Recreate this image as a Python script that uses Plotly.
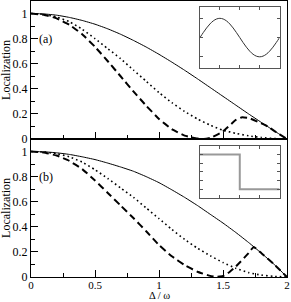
import plotly.graph_objects as go

# ---- data ----
delta = [0.0, 0.1, 0.2, 0.3, 0.4, 0.5, 0.6, 0.7, 0.8, 0.9, 1.0,
         1.1, 1.2, 1.3, 1.4, 1.5, 1.6, 1.7, 1.8, 1.9, 2.0]

a_solid = [1.0, 0.997, 0.987, 0.969, 0.945, 0.915, 0.878, 0.835, 0.786, 0.733, 0.675,
           0.613, 0.548, 0.48, 0.41, 0.34, 0.27, 0.2, 0.132, 0.065, 0.0]
a_dotted = [1.0, 0.993, 0.972, 0.935, 0.875, 0.8, 0.72, 0.64, 0.55, 0.46, 0.37,
            0.29, 0.22, 0.16, 0.11, 0.07, 0.045, 0.025, 0.012, 0.004, 0.0]
a_dash_x = [0.0, 0.1, 0.2, 0.3, 0.4, 0.5, 0.6, 0.7, 0.8, 0.9, 1.0, 1.1, 1.2, 1.3,
            1.35, 1.4, 1.5, 1.6, 1.65, 1.7, 1.8, 1.85, 1.9, 2.0]
a_dashed = [1.0, 0.99, 0.962, 0.91, 0.835, 0.735, 0.62, 0.5, 0.38, 0.265, 0.16, 0.078, 0.027, 0.004,
            0.0, 0.008, 0.06, 0.152, 0.174, 0.168, 0.125, 0.1, 0.065, 0.0]

b_solid = [1.0, 0.998, 0.99, 0.977, 0.958, 0.936, 0.908, 0.877, 0.843, 0.8, 0.752,
           0.695, 0.635, 0.57, 0.5, 0.43, 0.355, 0.275, 0.19, 0.1, 0.0]
b_dotted = [1.0, 0.996, 0.983, 0.958, 0.915, 0.855, 0.785, 0.71, 0.635, 0.55, 0.465,
            0.38, 0.3, 0.23, 0.17, 0.115, 0.07, 0.035, 0.015, 0.005, 0.0]
b_dash_x = [0.0, 0.1, 0.2, 0.3, 0.4, 0.5, 0.6, 0.7, 0.8, 0.9, 1.0, 1.1, 1.2, 1.3,
            1.4, 1.45, 1.5, 1.55, 1.6, 1.7, 1.74, 1.8, 1.9, 2.0]
b_dashed = [1.0, 0.992, 0.968, 0.925, 0.86, 0.77, 0.67, 0.57, 0.47, 0.365, 0.255, 0.165, 0.095, 0.042,
            0.009, 0.002, 0.008, 0.038, 0.083, 0.19, 0.24, 0.19, 0.1, 0.0]

# inset (a): one period of the driving
inset_a_t = [i / 24 for i in range(25)]
inset_a_v = [0.0, 0.259, 0.5, 0.707, 0.866, 0.966, 1.0, 0.966, 0.866, 0.707, 0.5, 0.259,
             0.0, -0.259, -0.5, -0.707, -0.866, -0.966, -1.0, -0.966, -0.866, -0.707, -0.5, -0.259, 0.0]
# inset (b): square pulse
inset_b_t = [0.0, 0.5, 0.5, 1.0]
inset_b_v = [1.0, 1.0, 0.0, 0.0]

panel_labels = ["(a)", "(b)"]
y_title = "Localization"
x_title = "Δ / ω"

FONT = "Liberation Serif, Times New Roman, serif"
SM = 0.5

fig = go.Figure()

def add_panel(x_dash, solid, dotted, dashed, xa, ya):
    fig.add_trace(go.Scatter(x=delta, y=solid, mode="lines", xaxis=xa, yaxis=ya,
                             line=dict(color="black", width=1, shape="spline", smoothing=SM),
                             showlegend=False))
    fig.add_trace(go.Scatter(x=delta, y=dotted, mode="lines", xaxis=xa, yaxis=ya,
                             line=dict(color="black", width=1.6, dash="1.6px,3px", shape="spline",
                                       smoothing=SM),
                             showlegend=False))
    fig.add_trace(go.Scatter(x=x_dash, y=dashed, mode="lines", xaxis=xa, yaxis=ya,
                             line=dict(color="black", width=2, dash="7px,4px", shape="spline",
                                       smoothing=0.3),
                             showlegend=False))

add_panel(a_dash_x, a_solid, a_dotted, a_dashed, "x", "y")
add_panel(b_dash_x, b_solid, b_dotted, b_dashed, "x2", "y2")

fig.add_trace(go.Scatter(x=inset_a_t, y=inset_a_v, mode="lines", xaxis="x3", yaxis="y3",
                         line=dict(color="#333333", width=1, shape="spline"), showlegend=False))
fig.add_trace(go.Scatter(x=inset_b_t, y=inset_b_v, mode="lines", xaxis="x4", yaxis="y4",
                         line=dict(color="#999999", width=2), showlegend=False))

main_x = dict(range=[0, 2], dtick=0.5, tick0=0, ticks="inside", ticklen=7, tickwidth=1,
              tickcolor="black", showline=True, linecolor="black", linewidth=1, mirror=True,
              showgrid=False, zeroline=False, automargin=False, ticklabelstandoff=-2,
              minor=dict(ticks="inside", ticklen=4, dtick=0.25, tick0=0, tickcolor="black"),
              tickfont=dict(family=FONT, size=11, color="black"))
main_y = dict(range=[0, 1.1], dtick=0.2, tick0=0, ticks="inside", ticklen=7, tickwidth=1,
              tickcolor="black", showline=True, linecolor="black", linewidth=1, mirror=True,
              showgrid=False, zeroline=False, automargin=False,
              minor=dict(ticks="inside", ticklen=4, dtick=0.1, tick0=0, tickcolor="black"),
              tickfont=dict(family=FONT, size=12, color="black"))

inset_common = dict(showline=True, linecolor="#555555", linewidth=1, mirror="ticks",
                    ticks="inside", ticklen=3, tickcolor="#555555", showticklabels=False,
                    showgrid=False, zeroline=False, automargin=False)

title_font = dict(family=FONT, size=12, color="black")

fig.update_layout(
    width=291, height=302,
    margin=dict(l=31, r=4, t=1, b=25, autoexpand=False),
    paper_bgcolor="white", plot_bgcolor="white",
    xaxis=dict(main_x, domain=[0, 1], anchor="y", showticklabels=False),
    yaxis=dict(main_y, domain=[0.5, 1], anchor="x"),
    xaxis2=dict(main_x, domain=[0, 1], anchor="y2"),
    yaxis2=dict(main_y, domain=[0, 0.5], anchor="x2"),
    xaxis3=dict(inset_common, domain=[0.66, 0.971], anchor="y3", range=[0, 1], dtick=0.25),
    yaxis3=dict(inset_common, domain=[0.756, 0.979], anchor="x3", range=[-1.6, 1.6], dtick=1),
    xaxis4=dict(inset_common, domain=[0.66, 0.971], anchor="y4", range=[0, 1], dtick=0.25),
    yaxis4=dict(inset_common, domain=[0.286, 0.475], anchor="x4", range=[-0.25, 1.25], dtick=0.25),
    annotations=[
        dict(text=panel_labels[0], x=0.05, y=0.8, xref="x", yref="y", xanchor="left",
             showarrow=False, font=dict(family=FONT, size=12, color="black")),
        dict(text=panel_labels[1], x=0.05, y=0.8, xref="x2", yref="y2", xanchor="left",
             showarrow=False, font=dict(family=FONT, size=12, color="black")),
        dict(text=y_title, textangle=-90, x=-0.098, y=0.75, xref="paper", yref="paper",
             xanchor="center", yanchor="middle", showarrow=False, font=title_font),
        dict(text=y_title, textangle=-90, x=-0.098, y=0.25, xref="paper", yref="paper",
             xanchor="center", yanchor="middle", showarrow=False, font=title_font),
        dict(text=x_title, x=0.5, y=-0.0888, xref="paper", yref="paper", borderpad=0,
             xanchor="center", yanchor="bottom", showarrow=False,
             font=dict(family=FONT, size=10.5, color="black")),
    ],
)

fig.write_html("out.html", config={"displayModeBar": False},
               post_script="document.body.style.margin='0';document.body.style.overflow='hidden';")
